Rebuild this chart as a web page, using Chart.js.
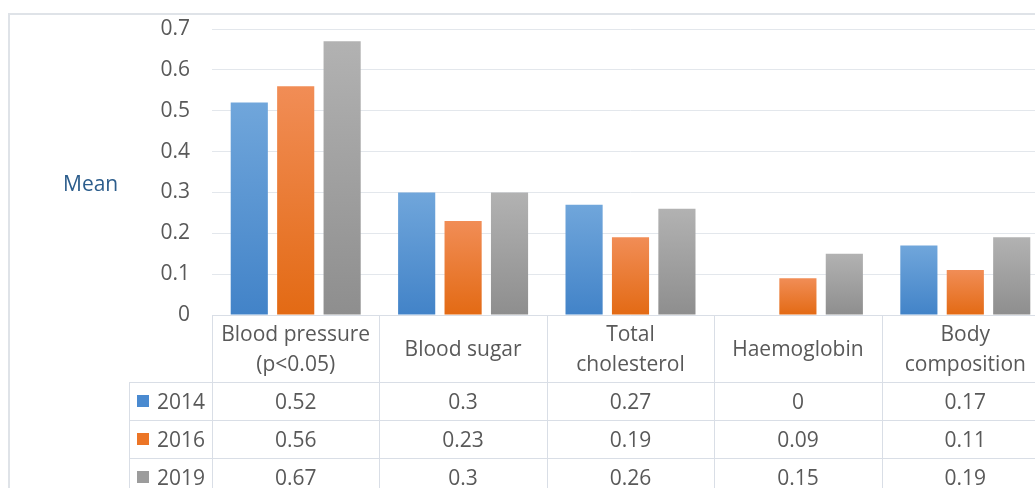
<!DOCTYPE html>
<html>
<head>
<meta charset="utf-8">
<script src="https://cdn.jsdelivr.net/npm/chart.js@4/dist/chart.umd.min.js"></script>
<style>
  html, body { margin: 0; padding: 0; background: #fff; overflow: hidden; width: 1035px; height: 488px; }
  #frame { position: absolute; left: 8px; top: 13px; width: 1100px; height: 600px; border: 2px solid #dfe3e8; box-sizing: border-box; }
  #wrap { position: absolute; left: 0; top: 0; width: 1060px; height: 488px; }
</style>
</head>
<body>
<div id="frame"></div>
<div id="wrap"><canvas id="c"></canvas></div>
<script>
// Mean scores per health check item, by survey year
const categories = [
  ["Blood pressure", "(p<0.05)"],
  ["Blood sugar"],
  ["Total", "cholesterol"],
  ["Haemoglobin"],
  ["Body", "composition"]
];
const years = ["2014", "2016", "2019"];
const values2014 = [0.52, 0.30, 0.27, 0.00, 0.17];
const values2016 = [0.56, 0.23, 0.19, 0.09, 0.11];
const values2019 = [0.67, 0.30, 0.26, 0.15, 0.19];
const yTicks = [0, 0.1, 0.2, 0.3, 0.4, 0.5, 0.6, 0.7];
const yAxisLabel = "Mean";

const FONT = "'Open Sans', 'DejaVu Sans', sans-serif";
const TEXT = "#595959";
const LINE = "#d9dee6";

// [top of bar, bottom of bar, legend swatch]
const palette = [
  ["#70a6db", "#4283c8", "#4a8ad0"],
  ["#f18d56", "#e36a14", "#ec7526"],
  ["#b2b2b2", "#8e8e8e", "#9c9c9c"]
];

function barFill(top, bottom) {
  return (ctx) => {
    const chart = ctx.chart;
    if (!chart.chartArea || ctx.type !== 'data') return bottom;
    const ys = chart.scales.y;
    const v = ctx.dataset.data[ctx.dataIndex];
    const y0 = ys.getPixelForValue(v), y1 = ys.getPixelForValue(0);
    if (y1 - y0 < 1) return bottom;
    const g = chart.ctx.createLinearGradient(0, y0, 0, y1);
    g.addColorStop(0, top);
    g.addColorStop(1, bottom);
    return g;
  };
}

const series = [values2014, values2016, values2019];

// Data table under the plot plus the vertical axis caption
const tablePlugin = {
  id: 'dataTable',
  afterDraw(chart) {
    const c = chart.ctx, a = chart.chartArea, xs = chart.scales.x;
    const n = categories.length;
    const colW = (a.right - a.left) / n;
    const headerH = 67, rowH = 38, legendLeft = 129, textDrop = 2;
    const top = a.bottom, headBottom = top + headerH;
    const bottom = headBottom + rowH * years.length;
    c.save();
    c.strokeStyle = LINE;
    c.lineWidth = 1;
    c.beginPath();
    const hy = (y) => Math.round(y) + 0.5;
    c.moveTo(a.left, hy(top)); c.lineTo(a.right, hy(top));
    for (let r = 0; r < years.length; r++) {
      const y = hy(headBottom + rowH * r);
      c.moveTo(legendLeft, y); c.lineTo(a.right, y);
    }
    c.moveTo(legendLeft + 0.5, headBottom); c.lineTo(legendLeft + 0.5, bottom);
    for (let i = 0; i <= n; i++) {
      const x = hy(a.left + colW * i);
      c.moveTo(x, top); c.lineTo(x, bottom);
    }
    c.stroke();

    c.font = "21px " + FONT;
    c.fillStyle = TEXT;
    c.textAlign = 'center';
    c.textBaseline = 'middle';
    const headMid = top + headerH / 2 + textDrop;
    categories.forEach((lines, i) => {
      const x = xs.getPixelForValue(i);
      const lh = 30;
      lines.forEach((t, k) => {
        c.fillText(t, x, headMid + (k - (lines.length - 1) / 2) * lh);
      });
      series.forEach((vals, r) => {
        c.fillText(String(vals[i]), x, headBottom + rowH * r + rowH / 2 + textDrop);
      });
    });

    c.textAlign = 'left';
    years.forEach((yr, r) => {
      const cy = headBottom + rowH * r + rowH / 2;
      c.fillStyle = palette[r][2];
      c.fillRect(137, Math.round(cy - 6), 12, 12);
      c.fillStyle = TEXT;
      c.fillText(yr, 157, cy + textDrop);
    });

    c.fillStyle = "#2c5d8c";
    c.fillText(yAxisLabel, 63, 185);
    c.restore();
  }
};

new Chart(document.getElementById('c'), {
  type: 'bar',
  data: {
    labels: categories.map(l => l.join(' ')),
    datasets: series.map((vals, i) => ({
      label: years[i],
      data: vals,
      backgroundColor: barFill(palette[i][0], palette[i][1]),
      borderWidth: 0,
      categoryPercentage: 0.832,
      barPercentage: 0.8
    }))
  },
  options: {
    responsive: true,
    maintainAspectRatio: false,
    animation: false,
    layout: { padding: { left: 0, top: 29, right: 11, bottom: 173 } },
    plugins: { legend: { display: false }, tooltip: { enabled: false } },
    scales: {
      x: { display: false },
      y: {
        min: 0,
        max: 0.7,
        afterBuildTicks: (s) => { s.ticks = yTicks.map(v => ({ value: v })); },
        afterFit: (s) => { s.width = 212; },
        ticks: {
          font: { family: FONT, size: 21 },
          color: TEXT,
          padding: 0,
          callback: (v) => String(Math.round(v * 10) / 10)
        },
        grid: { color: "#e3e7ec", drawTicks: true, tickLength: 22, tickColor: "rgba(0,0,0,0)" },
        border: { display: false }
      }
    }
  },
  plugins: [tablePlugin]
});
</script>
</body>
</html>
